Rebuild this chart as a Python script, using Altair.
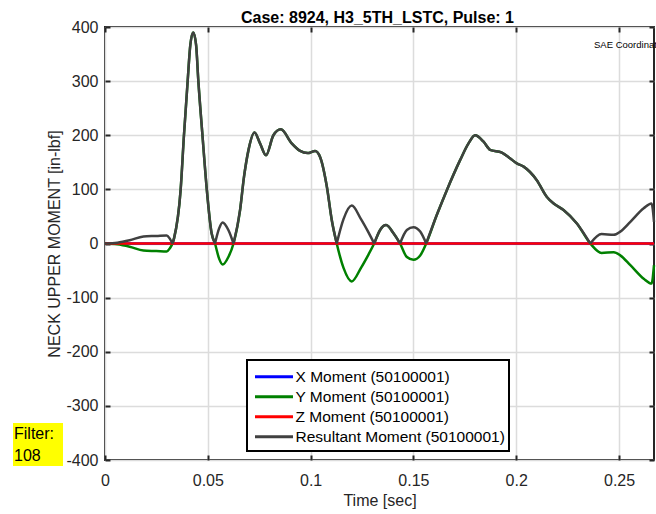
import altair as alt
import pandas as pd

# ---- data ----
time = [0.000, 0.006, 0.012, 0.0187, 0.025, 0.030, 0.0315, 0.0328, 0.0336, 0.0368,
        0.0384, 0.0402, 0.0415, 0.0429, 0.0443, 0.0454, 0.0474, 0.0495, 0.0518, 0.0535,
        0.0555, 0.0572, 0.0600, 0.0625, 0.0657, 0.0676, 0.0698, 0.0727, 0.0754, 0.0783,
        0.0819, 0.0855, 0.0908, 0.0949, 0.0985, 0.1022, 0.1046, 0.1079, 0.1103, 0.1127,
        0.1160, 0.1200, 0.1245, 0.1282, 0.1309, 0.1338, 0.1367, 0.1403, 0.1435, 0.1468,
        0.1500, 0.1533, 0.1562, 0.1614, 0.1663, 0.1727, 0.1768, 0.1800, 0.1841, 0.1873,
        0.1930, 0.1971, 0.2003, 0.2036, 0.2100, 0.2149, 0.2182, 0.2230, 0.2295, 0.2360,
        0.2415, 0.2474, 0.2506, 0.2555, 0.2620, 0.2658, 0.2670]

y_moment = [0, -1.5, -6, -13, -14, -15, -9, 0, 10, 100,
            200, 300, 367, 390, 367, 300, 200, 100, 20, 0,
            -28, -39, -25, 0, 62, 123, 173, 205, 185, 163,
            200, 211, 185, 171, 167, 171, 160, 105, 43, 0,
            -45, -70, -45, -20, 0, 25, 34, 19, 0, -25,
            -30, -22, 0, 53, 99, 154, 185, 200, 188, 173,
            168, 157, 148, 142, 117, 86, 74, 62, 37, 0,
            -17.5, -16, -22, -40, -65, -74, -40]

resultant = [0, 1.5, 6, 13, 14, 15, 9, 0, 10, 100,
             200, 300, 367, 390, 367, 300, 200, 100, 20, 0,
             28, 39, 25, 0, 62, 123, 173, 205, 185, 163,
             200, 211, 185, 171, 167, 171, 160, 105, 43, 0,
             45, 70, 45, 20, 0, 25, 34, 19, 0, 25,
             30, 22, 0, 53, 99, 154, 185, 200, 188, 173,
             168, 157, 148, 142, 117, 86, 74, 62, 37, 0,
             17.5, 16, 22, 40, 65, 74, 40]

x_moment = [0.0] * len(time)
z_moment = [0.0] * len(time)

series_names = ["X Moment (50100001)", "Y Moment (50100001)",
                "Z Moment (50100001)", "Resultant Moment (50100001)"]
series_colors = ["#0000ff", "#008000", "#ff0000", "#404040"]

x_ticks = [0, 0.05, 0.1, 0.15, 0.2, 0.25]
y_ticks = [-400, -300, -200, -100, 0, 100, 200, 300, 400]

title_text = "Case: 8924, H3_5TH_LSTC, Pulse: 1"
filter_lines = ["Filter:", "108"]

FONT = "Liberation Sans"
W, H = 549, 433


def frame(name, vals):
    return pd.DataFrame({"t": time, "v": vals, "series": name, "seg": 0})


# resultant split at its zero touches so the cusps stay sharp
rows = []
seg = 0
for i, (t, v) in enumerate(zip(time, resultant)):
    rows.append({"t": t, "v": v, "series": series_names[3], "seg": seg})
    if v == 0 and 0 < i < len(time) - 1:
        seg += 1
        rows.append({"t": t, "v": v, "series": series_names[3], "seg": seg})
res_df = pd.DataFrame(rows)

x_scale = alt.Scale(domain=[0, 0.267], nice=False, zero=False)
y_scale = alt.Scale(domain=[-400, 400], nice=False)
color_scale = alt.Scale(domain=series_names, range=series_colors)

x_axis = alt.Axis(values=x_ticks, format="~g", title="Time [sec]", offset=-5,
                  tickSize=5, domain=False, labelPadding=12, titlePadding=4,
                  labelFlush=False)
y_axis = alt.Axis(values=y_ticks, labelExpr="'' + datum.value",
                  title="NECK UPPER MOMENT [in-lbf]", offset=-5, tickSize=5,
                  domain=False, labelPadding=7, titlePadding=3, labelFlush=False)


def line_layer(df, with_axes):
    return alt.Chart(df).mark_line(strokeWidth=2.5, interpolate="monotone").encode(
        x=alt.X("t:Q", scale=x_scale, axis=x_axis if with_axes else None),
        y=alt.Y("v:Q", scale=y_scale, axis=y_axis if with_axes else None),
        color=alt.Color("series:N", scale=color_scale, legend=None),
        detail="seg:N",
    )


lx = line_layer(frame(series_names[0], x_moment), True)
ly = line_layer(frame(series_names[1], y_moment), False)
lz = line_layer(frame(series_names[2], z_moment), False)
lr = line_layer(res_df, False)

tick_layer = alt.Chart(frame(series_names[0], x_moment)).mark_point(opacity=0).encode(
    x=alt.X("t:Q", scale=x_scale,
            axis=alt.Axis(orient="top", values=x_ticks, labels=False, title=None,
                          grid=False, domain=False, offset=-5, tickSize=5)),
    y=alt.Y("v:Q", scale=y_scale,
            axis=alt.Axis(orient="right", values=y_ticks, labels=False, title=None,
                          grid=False, domain=False, offset=-5, tickSize=5)),
)

one = pd.DataFrame({"a": [0]})

# legend (box, sample strokes, labels)
leg_df = pd.DataFrame({"series": series_names, "row": [0, 1, 2, 3]})
leg_df["py"] = 349.7 + 20 * leg_df["row"]

legend_box = alt.Chart(one).mark_rect(fill="white", stroke="black", strokeWidth=2).encode(
    x=alt.value(142), x2=alt.value(404), y=alt.value(333), y2=alt.value(424))
legend_lines = alt.Chart(leg_df).mark_rule(strokeWidth=3).encode(
    x=alt.value(150), x2=alt.value(188),
    y=alt.Y("py:Q", scale=None, axis=None),
    color=alt.Color("series:N", scale=color_scale, legend=None))
legend_text = alt.Chart(leg_df).mark_text(
    font=FONT, fontSize=15.5, color="black", align="left", baseline="middle").encode(
    x=alt.value(190.5), y=alt.Y("py:Q", scale=None, axis=None), text="series:N")

title_mark = alt.Chart(one).mark_text(
    text=title_text, font=FONT, fontSize=16, fontWeight="bold", color="black",
    align="center", baseline="alphabetic").encode(x=alt.value(272.5), y=alt.value(-4.3))

sae_mark = alt.Chart(one).mark_text(
    text="SAE Coordinat", font=FONT, fontSize=9.5, color="black",
    align="left", baseline="middle").encode(x=alt.value(489), y=alt.value(18))

filter_box = alt.Chart(one).mark_rect(fill="#ffff00").encode(
    x=alt.value(-92), x2=alt.value(-42), y=alt.value(396), y2=alt.value(439))
filter_t1 = alt.Chart(one).mark_text(
    text=filter_lines[0], font=FONT, fontSize=16, color="black", align="left",
    baseline="alphabetic").encode(x=alt.value(-91), y=alt.value(412))
filter_t2 = alt.Chart(one).mark_text(
    text=filter_lines[1], font=FONT, fontSize=16, color="black", align="left",
    baseline="alphabetic").encode(x=alt.value(-91), y=alt.value(434))

chart = alt.layer(
    lx, ly, lz, lr, tick_layer, legend_box, legend_lines, legend_text,
    title_mark, sae_mark, filter_box, filter_t1, filter_t2
).resolve_axis(x="independent", y="independent").properties(
    width=W, height=H,
    autosize=alt.AutoSizeParams(type="none"),
    padding={"left": 105, "top": 27, "right": 2, "bottom": 54},
    background="white",
).configure_view(stroke="#262626", strokeWidth=2).configure_axis(
    labelFont=FONT, labelFontSize=16, labelColor="#262626",
    titleFont=FONT, titleFontSize=16, titleColor="#262626", titleFontWeight="normal",
    tickColor="#262626", tickWidth=2, gridColor="#dcdcdc", gridWidth=1.5,
)

chart.save("out.html", embed_options={"renderer": "svg", "actions": False})
